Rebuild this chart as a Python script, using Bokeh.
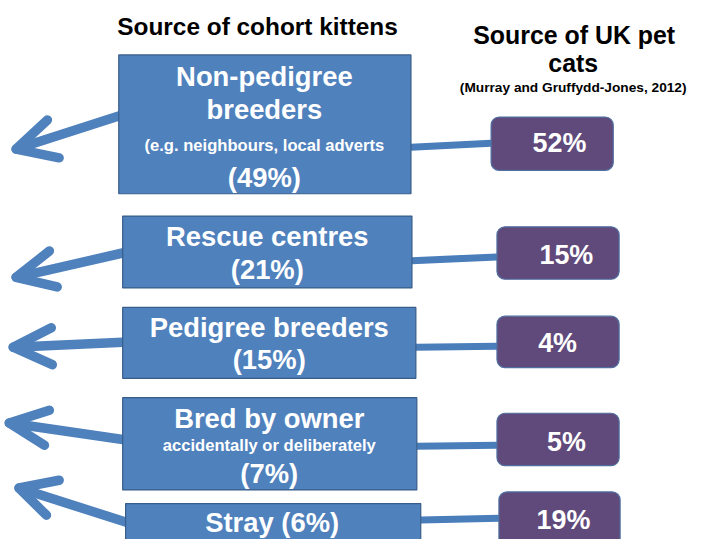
from bokeh.plotting import figure
from bokeh.models import Range1d
from bokeh.core.properties import value
from bokeh.embed import file_html
from bokeh.resources import INLINE

# ---- data ----
cohort_sources = ["Non-pedigree\nbreeders", "Rescue centres", "Pedigree breeders", "Bred by owner", "Stray"]
cohort_notes = ["(e.g. neighbours, local adverts", "", "", "accidentally or deliberately", ""]
cohort_pct = [49, 21, 15, 7, 6]
uk_pct = [52, 15, 4, 5, 19]
title_left = "Source of cohort kittens"
title_right = ["Source of UK pet", "cats"]
citation = "(Murray and Gruffydd-Jones, 2012)"

# ---- layout (reference pixel coordinates) ----
W, H = 689, 539
RW, RH = 705, 555
S = W / RW
def fs(px):
    return f"{px * S:.1f}px"

blue_l = [121, 125, 125, 125, 128]
blue_r = [420, 421, 425, 426, 430]
blue_t = [56, 222, 316, 409, 518]
blue_b = [199, 296, 389, 504, 590]
pur_l = [502, 508, 508, 508, 510]
pur_r = [627, 633, 633, 633, 634]
pur_t = [120, 233, 325, 425, 506]
pur_b = [175, 287, 378, 479, 590]
conn = [((420, 151), (502, 147)), ((421, 268), (508, 264)), ((425, 357), (508, 356)),
        ((426, 459), (508, 458)), ((430, 535), (510, 533))]
arrows = [((121, 119), (16, 153), (48, 123), (60, 162)),
          ((125, 260), (16, 285), (50, 258), (58, 295)),
          ((125, 352), (13, 357), (52, 337), (53, 375)),
          ((125, 452), (9, 435), (50, 422), (45, 458)),
          ((128, 537), (19, 502), (60, 494), (47, 530))]

BLUE = "#4F81BD"
BLUE_EDGE = "#385D8A"
PURPLE = "#604A7B"
FONT = value("Liberation Sans")

p = figure(width=W, height=H, x_range=Range1d(0, RW), y_range=Range1d(RH, 0),
           output_backend="svg", toolbar_location=None, min_border=0)
p.axis.visible = False
p.grid.visible = False
p.outline_line_color = None
p.background_fill_color = "white"

# arrows (shafts + open heads)
xs, ys = [], []
for (s, tip, a1, a2) in arrows:
    xs.append([s[0], tip[0]]); ys.append([s[1], tip[1]])
    xs.append([a1[0], tip[0], a2[0]]); ys.append([a1[1], tip[1], a2[1]])
p.multi_line(xs, ys, line_color=BLUE, line_width=9.5, line_cap="round", line_join="round")

# connectors
p.multi_line([[a[0], b[0]] for a, b in conn], [[a[1], b[1]] for a, b in conn],
             line_color="#4A7EBB", line_width=7)

# boxes
p.quad(left=blue_l, right=blue_r, top=blue_t, bottom=blue_b,
       fill_color=BLUE, line_color=BLUE_EDGE, line_width=1.2)
p.quad(left=pur_l, right=pur_r, top=pur_t, bottom=pur_b,
       fill_color=PURPLE, line_color="#4F6FA0", line_width=1.2, border_radius=8)

# titles
p.text([263], [27], text=[title_left], text_font=FONT, text_font_style="bold",
       text_font_size=fs(25), text_align="center", text_baseline="middle", text_color="black")
p.text([587, 586], [36, 64], text=title_right, text_font=FONT, text_font_style="bold",
       text_font_size=fs(25.5), text_align="center", text_baseline="middle", text_color="black")
p.text([586], [90], text=[citation], text_font=FONT, text_font_style="bold",
       text_font_size=fs(14), text_align="center", text_baseline="middle", text_color="black")

# blue box texts
big_x, big_y, big_t = [], [], []
small_x, small_y, small_t = [], [], []
cx = [270, 273, 275, 275, 278]
# box 1
big_x += [cx[0], cx[0], cx[0]]; big_y += [78, 112, 182]
big_t += cohort_sources[0].split("\n") + [f"({cohort_pct[0]}%)"]
small_x.append(cx[0]); small_y.append(149); small_t.append(cohort_notes[0])
# box 2, 3
for i, (y1, y2) in zip([1, 2], [(243, 277), (337, 370)]):
    big_x += [cx[i], cx[i]]; big_y += [y1, y2]
    big_t += [cohort_sources[i], f"({cohort_pct[i]}%)"]
# box 4
big_x += [cx[3], cx[3]]; big_y += [430, 487]
big_t += [cohort_sources[3], f"({cohort_pct[3]}%)"]
small_x.append(cx[3]); small_y.append(458); small_t.append(cohort_notes[3])
# box 5
big_x.append(cx[4]); big_y.append(537); big_t.append(f"{cohort_sources[4]} ({cohort_pct[4]}%)")

p.text(big_x, big_y, text=big_t, text_font=FONT, text_font_style="bold",
       text_font_size=fs(28), text_align="center", text_baseline="middle", text_color="white")
p.text(small_x, small_y, text=small_t, text_font=FONT, text_font_style="bold",
       text_font_size=fs(17), text_align="center", text_baseline="middle", text_color="white")

# purple texts
px = [572, 579, 570, 579, 576]
py = [147, 262, 353, 455, 535]
p.text(px, py, text=[f"{v}%" for v in uk_pct], text_font=FONT, text_font_style="bold",
       text_font_size=fs(27.5), text_align="center", text_baseline="middle", text_color="white")

open("out.html", "w").write(file_html(p, INLINE))
